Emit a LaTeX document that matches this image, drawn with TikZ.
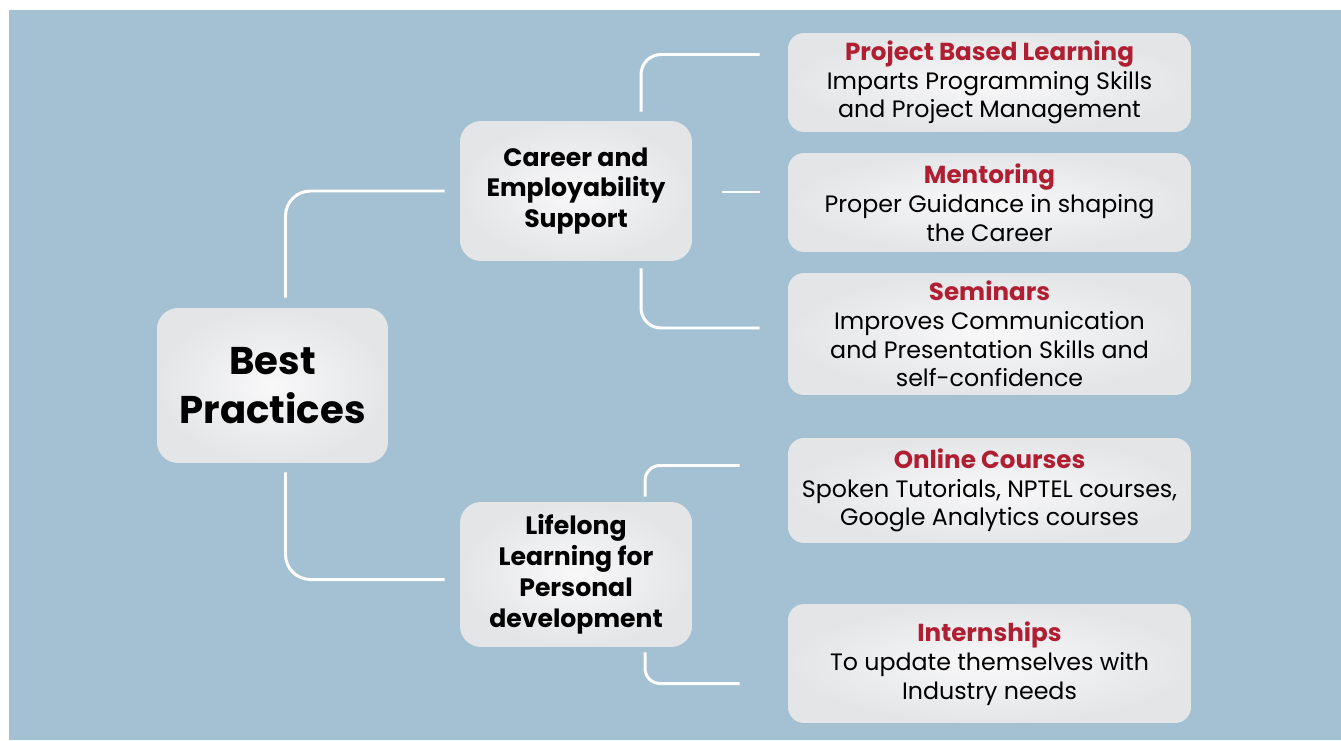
\documentclass[tikz,border=0pt]{standalone}
\usepackage{fontspec}
\setmainfont{Poppins}
\usetikzlibrary{calc, positioning}
\definecolor{bgblue}{RGB}{163,193,210}
\definecolor{titlered}{RGB}{176,30,50}
\definecolor{boxouter}{RGB}{228,229,231}
\definecolor{boxinner}{RGB}{248,248,249}
\tikzset{
  basebox/.style={
    rectangle, align=center, text centered, inner sep=0pt,
    inner color=boxinner, outer color=boxouter
  },
  rootbox/.style={
    basebox, rounded corners=0.42cm, minimum width=4.62cm, minimum height=3.1cm,
    font=\fontsize{22}{28}\selectfont\bfseries
  },
  midbox/.style={
    basebox, rounded corners=0.42cm, minimum width=4.64cm,
    font=\fontsize{14.3}{17.6}\selectfont\bfseries
  },
  leafbox/.style={
    basebox, rounded corners=0.32cm, minimum width=8.06cm,
    font=\fontsize{13.5}{16.4}\selectfont
  },
  link/.style={
    draw=white, line width=1.7pt, rounded corners=0.5cm
  }
}
\newcommand{\leaftitle}[1]{\textcolor{titlered}{\fontsize{14}{16.4}\selectfont\bfseries #1}}

\begin{document}
\begin{tikzpicture}[x=0.02cm, y=-0.02cm]
\useasboundingbox (0,0) rectangle (1341,740);
\fill[white] (0,0) rectangle (1341,740);
\fill[bgblue] (9,10) rectangle (1341,740);

% root and the two branches
\node[rootbox] (best) at (272.5,385.5) {Best\\Practices};
\node[midbox, minimum height=2.8cm] (career) at (576,191) {Career and\\Employability\\Support};
\node[midbox, minimum height=2.9cm] (lifelong) at (576,574.5) {Lifelong\\Learning for\\Personal\\development};

% leaves
\node[leafbox, minimum height=1.98cm] (pbl) at (989.5,82.5)
  {\leaftitle{Project Based Learning}\\Imparts Programming Skills\\and Project Management};
\node[leafbox, minimum height=1.98cm] (mentor) at (989.5,202.5)
  {\leaftitle{Mentoring}\\Proper Guidance in shaping\\the Career};
\node[leafbox, minimum height=2.44cm] (seminar) at (989.5,334)
  {\leaftitle{Seminars}\\Improves Communication\\and Presentation Skills and\\self-confidence};
\node[leafbox, minimum height=2.1cm] (online) at (989.5,490.5)
  {\leaftitle{Online Courses}\\Spoken Tutorials, NPTEL courses,\\Google Analytics courses};
\node[leafbox, minimum height=2.38cm] (intern) at (989.5,663.5)
  {\leaftitle{Internships}\\To update themselves with\\Industry needs};

% connectors
\draw[link] ($(best.north)+(13,-10)$) |- ($(career.west)+(-15,0)$);
\draw[link] ($(best.south)+(13,9)$) |- ($(lifelong.west)+(-15,5)$);

\draw[link, rounded corners=0.4cm] ($(career.north)+(65,-9)$) |- ($(pbl.west)+(-28,-28)$);
\draw[link] ($(career.east)+(30,1)$) -- ($(career.east -| mentor.west)+(-28,1)$);
\draw[link, rounded corners=0.4cm] ($(career.south)+(65,7)$) |- ($(seminar.west)+(-28,-6)$);

\draw[link, rounded corners=0.3cm] ($(lifelong.north)+(69,-5)$) |- ($(online.west)+(-48,-25)$);
\draw[link, rounded corners=0.3cm] ($(lifelong.south)+(69,5)$) |- ($(intern.west)+(-48,20)$);
\end{tikzpicture}
\end{document}
